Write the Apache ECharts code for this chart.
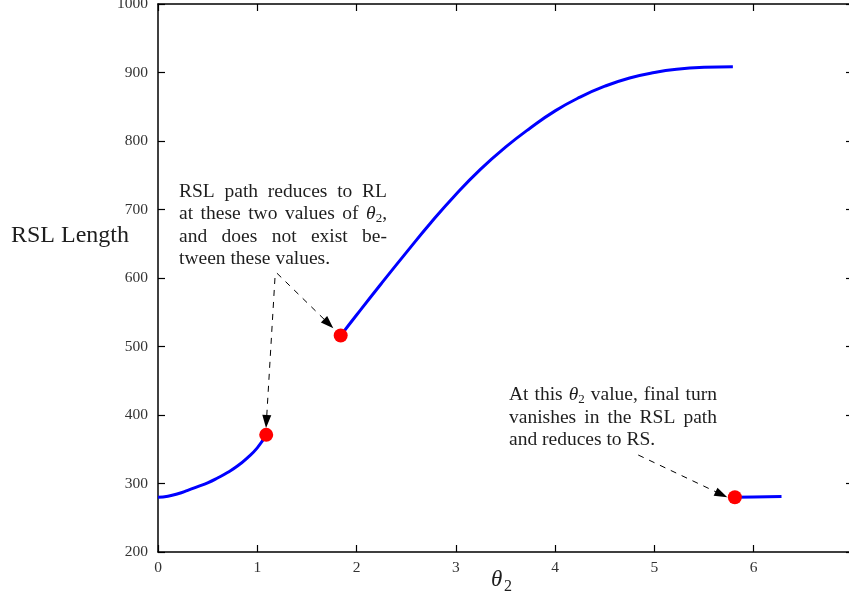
<!DOCTYPE html>
<html>
<head>
<meta charset="utf-8">
<script src="https://cdn.jsdelivr.net/npm/echarts@6/dist/echarts.min.js"></script>
<style>
  html, body { margin: 0; padding: 0; background: #fff; }
  #chart { width: 849px; height: 602px; }
</style>
</head>
<body>
<div id="chart"></div>
<script>
// RSL path length versus the heading angle theta_2 (three branches)
const thetaLow = [0, 0.1, 0.2, 0.3, 0.4, 0.5, 0.6, 0.7, 0.8, 0.9, 1.0, 1.09];
const lenLow = [280, 281.5, 285, 290, 295.5, 301, 308, 316, 325.5, 337.5, 352, 371];

const thetaMid = [1.84, 2.0, 2.25, 2.5, 2.75, 3.0, 3.25, 3.5, 3.75, 4.0, 4.25, 4.5, 4.75, 5.0, 5.25, 5.5, 5.79];
const lenMid = [516, 546, 592, 637, 681, 722, 759, 791, 819, 844, 864, 880, 892, 900, 905, 907.5, 908.5];

const thetaHigh = [5.81, 6.0, 6.28];
const lenHigh = [280, 280.3, 281];

// transition points where the path degenerates
const transTheta = [1.09, 1.84, 5.81];
const transLen = [371, 516, 280];

// axis ticks
const xTicks = [0, 1, 2, 3, 4, 5, 6, 7];
const yTicks = [200, 300, 400, 500, 600, 700, 800, 900, 1000];

// annotation arrows (data coordinates: tail -> head)
const arrowTail = [[1.178, 600], [1.198, 607], [4.837, 341.6]];
const arrowHead = [[1.088, 381], [1.766, 526.6], [5.734, 279.9]];

// annotation paragraphs
const noteRL = ['RSL path reduces to RL', 'at these two values of θ₂,', 'and does not exist be-', 'tween these values.'];
const noteRS = ['At this θ₂ value, final turn', 'vanishes in the RSL path', 'and reduces to RS.'];

const SERIF = '"Liberation Serif", "Times New Roman", serif';
const BODY = 19.5, SUB = 13;
const INK = '#1e1e1e';

const chart = echarts.init(document.getElementById('chart'), null, { renderer: 'canvas' });

const toPairs = (xs, ys) => xs.map((x, i) => [x, ys[i]]);
const curveStyle = {
  type: 'line', showSymbol: false, smooth: 0.5,
  lineStyle: { color: '#0000ff', width: 3 }, z: 2, silent: true
};

const axisLine = { show: true, onZero: false, lineStyle: { color: '#000', width: 1.5 } };
const axisTick = { show: true, inside: true, length: 7, lineStyle: { color: '#000', width: 1.2 } };
const tickLabel = { color: '#333', fontFamily: SERIF, fontSize: 15.5, formatter: v => String(v) };

function xAxisDef(pos, labels) {
  return {
    type: 'value', position: pos, min: xTicks[0], max: xTicks[xTicks.length - 1], interval: 1,
    axisLine, axisTick, splitLine: { show: false },
    axisLabel: labels ? Object.assign({ margin: 8 }, tickLabel) : { show: false }
  };
}
function yAxisDef(pos, labels) {
  return {
    type: 'value', position: pos, min: yTicks[0], max: yTicks[yTicks.length - 1], interval: 100,
    axisLine, axisTick, splitLine: { show: false },
    axisLabel: labels ? Object.assign({ margin: 10 }, tickLabel) : { show: false }
  };
}

chart.setOption({
  animation: false,
  backgroundColor: '#fff',
  grid: { left: 158, top: 4, width: 695, height: 548, containLabel: false, outerBoundsMode: 'none' },
  xAxis: [xAxisDef('bottom', true), xAxisDef('top', false)],
  yAxis: [yAxisDef('left', true), yAxisDef('right', false)],
  series: [
    Object.assign({ name: 'low', data: toPairs(thetaLow, lenLow) }, curveStyle),
    Object.assign({ name: 'mid', data: toPairs(thetaMid, lenMid) }, curveStyle),
    Object.assign({ name: 'high', data: toPairs(thetaHigh, lenHigh) }, curveStyle),
    {
      name: 'transitions', type: 'scatter', data: toPairs(transTheta, transLen),
      symbol: 'circle', symbolSize: 14, itemStyle: { color: '#ff0000', opacity: 1 }, z: 4, silent: true
    }
  ]
});

// ---- text layout helpers (justified paragraphs with italic theta and subscript) ----
const measureCtx = document.createElement('canvas').getContext('2d');
function runFont(kind) {
  if (kind === 'it') return 'italic ' + BODY + 'px ' + SERIF;
  if (kind === 'sub') return SUB + 'px ' + SERIF;
  return BODY + 'px ' + SERIF;
}
function measure(text, kind) {
  measureCtx.font = runFont(kind);
  return measureCtx.measureText(text).width;
}
function wordRuns(word) {
  const runs = [];
  word.split('θ₂').forEach((part, i) => {
    if (i > 0) { runs.push({ t: 'θ', k: 'it' }); runs.push({ t: '2', k: 'sub' }); }
    if (part) runs.push({ t: part, k: 'rm' });
  });
  return runs;
}
function paragraph(lines, x0, x1, yMid, gap) {
  const els = [];
  lines.forEach((line, li) => {
    const words = line.split(' ').map(wordRuns);
    const widths = words.map(r => r.reduce((s, u) => s + measure(u.t, u.k), 0));
    const total = widths.reduce((a, b) => a + b, 0);
    const justify = li < lines.length - 1 && words.length > 1;
    const sp = justify ? (x1 - x0 - total) / (words.length - 1) : measure(' ', 'rm');
    const y = yMid + li * gap;
    let x = x0;
    words.forEach((runs, wi) => {
      let cx = x;
      runs.forEach(u => {
        els.push({
          type: 'text', x: cx, y: u.k === 'sub' ? y + 4.5 : y, silent: true, z: 10,
          style: { text: u.t, font: runFont(u.k), fill: INK, textAlign: 'left', textVerticalAlign: 'middle' }
        });
        cx += measure(u.t, u.k);
      });
      x += widths[wi] + sp;
    });
  });
  return els;
}

// ---- dashed arrows placed through the grid's coordinate system ----
function arrow(tail, head) {
  const p0 = chart.convertToPixel({ gridIndex: 0 }, tail);
  const p1 = chart.convertToPixel({ gridIndex: 0 }, head);
  const dx = p1[0] - p0[0], dy = p1[1] - p0[1];
  const len = Math.hypot(dx, dy);
  const ux = dx / len, uy = dy / len;
  const L = 13, W = 4.5;
  const bx = p1[0] - ux * L, by = p1[1] - uy * L;
  return [
    {
      type: 'line', silent: true, z: 5,
      shape: { x1: p0[0], y1: p0[1], x2: bx + ux * 2, y2: by + uy * 2 },
      style: { stroke: '#000', lineWidth: 1, lineDash: [6, 6] }
    },
    {
      type: 'polygon', silent: true, z: 5,
      shape: { points: [[p1[0], p1[1]], [bx - uy * W, by + ux * W], [bx + uy * W, by - ux * W]] },
      style: { fill: '#000' }
    }
  ];
}

const graphics = [];
arrowTail.forEach((t, i) => graphics.push(...arrow(t, arrowHead[i])));
graphics.push(...paragraph(noteRL, 179, 387, 191.8, 22.3));
graphics.push(...paragraph(noteRS, 509, 717, 395.2, 22.5));

// axis titles
graphics.push({
  type: 'text', x: 11, y: 236.2, silent: true,
  style: { text: 'RSL Length', font: '24px ' + SERIF, fill: INK, textAlign: 'left', textVerticalAlign: 'middle' }
});
graphics.push({
  type: 'text', x: 491, y: 580, silent: true,
  style: { text: 'θ', font: 'italic 23px ' + SERIF, fill: INK, textAlign: 'left', textVerticalAlign: 'middle' }
});
graphics.push({
  type: 'text', x: 504, y: 587, silent: true,
  style: { text: '2', font: '16px ' + SERIF, fill: INK, textAlign: 'left', textVerticalAlign: 'middle' }
});

chart.setOption({ graphic: graphics });
</script>
</body>
</html>
